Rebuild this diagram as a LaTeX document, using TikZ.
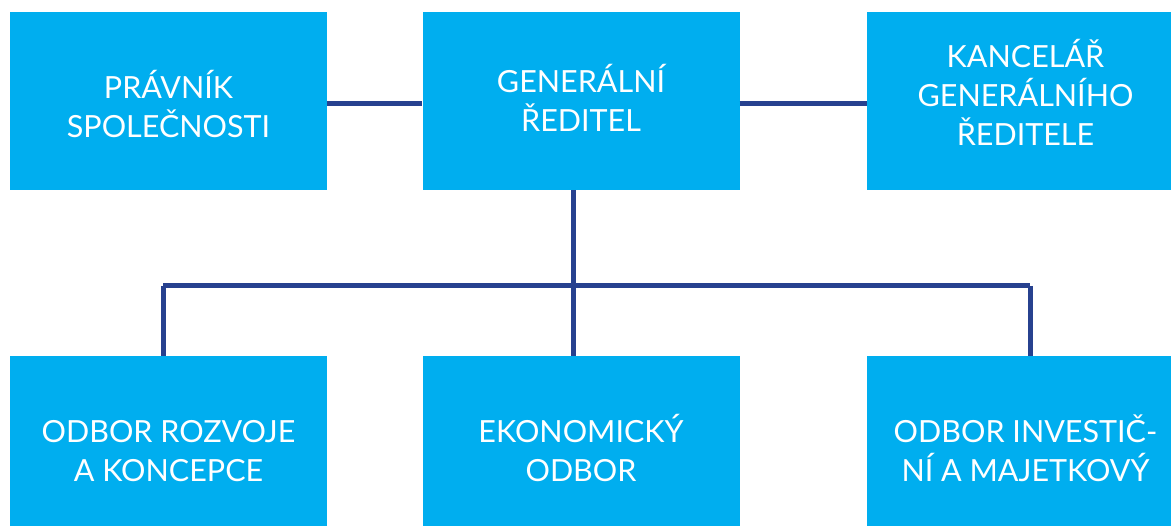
\documentclass[tikz,border=0pt]{standalone}
\usepackage{fontspec}
\setmainfont{Lato}
\usepackage{tikz}
\usetikzlibrary{arrows,shapes}
\definecolor{boxblue}{HTML}{00AEEF}
\definecolor{linknavy}{HTML}{27418F}
\tikzset{push/.style={execute at begin node={\rule{0pt}{#1}}},
  lift/.style={execute at end node={\rule[-#1]{0pt}{#1}}}}
\tikzstyle{unit}=[rectangle,fill=boxblue,text=white,align=center,inner sep=0pt,minimum width=317pt,minimum height=178pt,font=\fontsize{30.5}{39}\selectfont]
\tikzstyle{lowunit}=[unit,minimum height=170pt,push=81pt]
\tikzstyle{edge} = [draw,line width=5pt,linknavy,-]

\begin{document}
\begin{tikzpicture}[x=1pt,y=1pt]
        \useasboundingbox (0,0) rectangle (1171,526);
        \node[unit,push=73.4pt] (pravnik) at (168.5,425) {PRÁVNÍK\\SPOLEČNOSTI};
        \node[unit,lift=5.5pt] (reditel) at (581,425) {GENERÁLNÍ\\ŘEDITEL};
        \node[unit,lift=17.5pt] (kancelar) at (1025.5,425) {KANCELÁŘ\\GENERÁLNÍHO\\ŘEDITELE};
        \node[lowunit] (rozvoj) at (168.5,85) {ODBOR ROZVOJE\\A KONCEPCE};
        \node[lowunit] (ekonom) at (581,85) {EKONOMICKÝ\\ODBOR};
        \node[lowunit] (invest) at (1025.5,85) {ODBOR INVESTIČ-\\NÍ A MAJETKOVÝ};
        \coordinate (hub) at (573,240);
        \coordinate (left) at (163,240);
        \coordinate (right) at (1030,240);
        \draw[edge] ([yshift=-3pt]pravnik.east) to ([yshift=-3pt]reditel.west);
        \draw[edge] ([yshift=-3pt]reditel.east) to ([yshift=-3pt]kancelar.west);
        \draw[edge] (reditel.south -| hub) to (hub);
        \draw[edge] (left) to (right);
        \draw[edge] (left) to (left |- rozvoj.north);
        \draw[edge] (hub) to (hub |- ekonom.north);
        \draw[edge] (right) to (right |- invest.north);
      \end{tikzpicture}
\end{document}
